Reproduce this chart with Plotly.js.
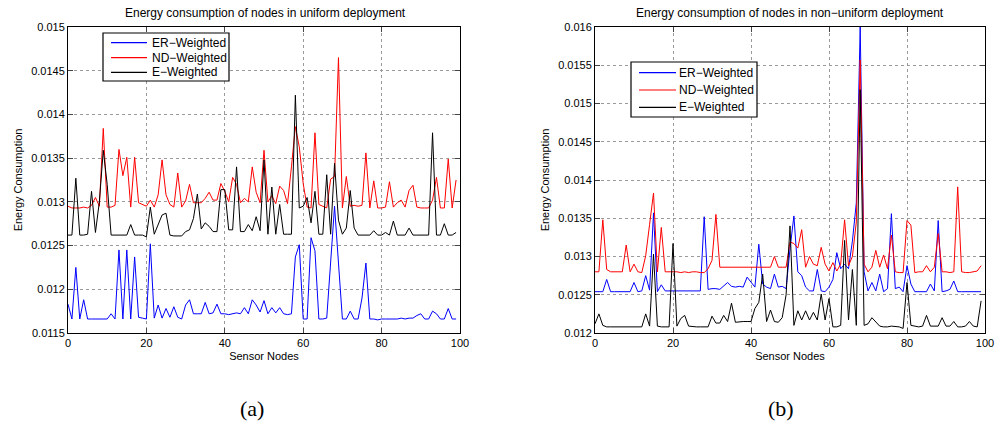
<!DOCTYPE html>
<html>
<head>
<meta charset="utf-8">
<script src="https://cdn.plot.ly/plotly-3.0.1.min.js"></script>
<style>
html,body{margin:0;padding:0;background:#fff;}
#chart{width:996px;height:423px;}
</style>
</head>
<body>
<div id="chart"></div>
<script>
// ---- Data ----
const seriesNames = ["ER\u2212Weighted", "ND\u2212Weighted", "E\u2212Weighted"];

// (a) uniform deployment, nodes 0..99
const uniER = [0.01183,0.01166,0.01225,0.01166,0.01188,0.01166,0.01166,0.01166,0.01166,0.01166,
0.01166,0.01172,0.01166,0.01245,0.01166,0.01245,0.01166,0.01237,0.01168,0.01167,
0.01166,0.01252,0.01167,0.01182,0.01167,0.01178,0.01168,0.0118,0.01168,0.01166,
0.01182,0.01188,0.01172,0.01172,0.01172,0.01185,0.01172,0.01173,0.01183,0.01172,
0.01172,0.01171,0.01172,0.01173,0.01172,0.01179,0.01172,0.01188,0.01182,0.01174,
0.01187,0.01172,0.01179,0.01173,0.01179,0.01172,0.01171,0.01172,0.01237,0.01251,
0.01166,0.01166,0.01259,0.01244,0.01166,0.01166,0.01167,0.0123,0.01295,0.0123,
0.01166,0.01166,0.01175,0.01166,0.01166,0.0119,0.0123,0.01166,0.01166,0.01165,
0.01166,0.01166,0.01166,0.01166,0.01166,0.01167,0.01166,0.01167,0.01167,0.0117,
0.01172,0.01166,0.01166,0.01175,0.01172,0.01166,0.01166,0.01178,0.01166,0.01166];

const uniND = [0.01295,0.01293,0.01293,0.01293,0.01294,0.01293,0.01296,0.01305,0.01295,0.01384,
0.01294,0.01294,0.01296,0.0136,0.0133,0.01351,0.01294,0.01351,0.01299,0.01297,
0.01295,0.01302,0.01294,0.01308,0.01348,0.01308,0.01297,0.01294,0.01333,0.01294,
0.01301,0.0132,0.01299,0.01299,0.01299,0.01304,0.01311,0.01302,0.01302,0.01321,
0.01312,0.013,0.01328,0.0132,0.01299,0.01304,0.013,0.0134,0.01311,0.01299,
0.01359,0.013,0.01307,0.01298,0.01318,0.01313,0.01298,0.0134,0.01386,0.01363,
0.01321,0.01294,0.01293,0.01379,0.01297,0.01295,0.01293,0.01326,0.01329,0.01465,
0.01293,0.01329,0.01295,0.01296,0.01295,0.01296,0.01356,0.01293,0.01324,0.01293,
0.01293,0.01294,0.01323,0.01294,0.01299,0.01302,0.01294,0.01313,0.01319,0.01294,
0.01293,0.01293,0.01293,0.01302,0.01328,0.01293,0.01293,0.01349,0.01293,0.01325];

const uniE = [0.01262,0.01262,0.01327,0.01262,0.01262,0.01263,0.01312,0.01265,0.013,0.01359,
0.0132,0.01262,0.01262,0.01262,0.01262,0.01262,0.01274,0.01262,0.01262,0.01262,
0.0126,0.01294,0.01263,0.01274,0.01285,0.01287,0.01262,0.01261,0.01261,0.01261,
0.01266,0.01268,0.01281,0.01309,0.01269,0.01276,0.01272,0.01266,0.01266,0.01314,
0.01314,0.01268,0.01268,0.0134,0.01266,0.01266,0.01274,0.01267,0.01283,0.01267,
0.01348,0.01263,0.01317,0.01263,0.01297,0.01263,0.01263,0.01263,0.01422,0.01293,
0.01295,0.01305,0.01276,0.01312,0.01263,0.01263,0.01331,0.01263,0.01344,0.01279,
0.01263,0.0127,0.01313,0.0127,0.01262,0.01262,0.01262,0.01262,0.01267,0.01262,
0.01262,0.01265,0.01262,0.01278,0.01262,0.01262,0.01262,0.0127,0.01262,0.01262,
0.01262,0.01262,0.01262,0.01379,0.01262,0.01262,0.01275,0.01262,0.01262,0.01265];

// (b) non-uniform deployment, nodes 0..99
const nonER = [0.01254,0.01254,0.01254,0.0127,0.01254,0.01254,0.01254,0.01254,0.01254,0.01254,
0.01266,0.01254,0.01255,0.01275,0.01256,0.01357,0.01254,0.01263,0.01255,0.01255,
0.01255,0.01255,0.01255,0.01255,0.01255,0.01255,0.01255,0.01255,0.01352,0.01257,
0.01258,0.01258,0.01257,0.01262,0.01266,0.01261,0.0126,0.01261,0.0126,0.01273,
0.01266,0.0126,0.01316,0.01264,0.0126,0.01258,0.01277,0.0126,0.01261,0.01258,
0.0131,0.01353,0.0128,0.01275,0.0126,0.01255,0.01255,0.01283,0.01255,0.01254,
0.0126,0.0127,0.01305,0.01284,0.0129,0.01284,0.0132,0.0137,0.016,0.0128,
0.01255,0.01266,0.01255,0.01277,0.01254,0.01258,0.01356,0.01258,0.0126,0.01254,
0.01288,0.01264,0.01254,0.01254,0.01254,0.01254,0.01264,0.01255,0.01347,0.01254,
0.01255,0.01257,0.01268,0.01254,0.01254,0.01254,0.01254,0.01254,0.01254,0.01254];

const nonND = [0.0128,0.0128,0.01348,0.01283,0.0128,0.0128,0.0128,0.0128,0.01315,0.0128,
0.0129,0.0128,0.01279,0.01301,0.01342,0.01383,0.0128,0.01338,0.0128,0.0128,
0.0128,0.0128,0.01279,0.0128,0.01279,0.0128,0.0128,0.01279,0.01279,0.01284,
0.01295,0.01355,0.01286,0.01286,0.01286,0.01286,0.01286,0.01286,0.01286,0.01286,
0.01286,0.01286,0.01286,0.01286,0.01286,0.01286,0.013,0.01286,0.01286,0.01286,
0.01319,0.01317,0.01311,0.01335,0.01286,0.013,0.0129,0.01288,0.01312,0.0129,
0.01281,0.01292,0.01281,0.0129,0.01348,0.01288,0.013,0.01345,0.01557,0.0129,
0.0128,0.01286,0.01308,0.01286,0.01302,0.01284,0.01328,0.0128,0.01279,0.01279,
0.01347,0.01341,0.01279,0.0128,0.0128,0.01288,0.0128,0.01286,0.0133,0.0128,
0.0128,0.01279,0.0128,0.01391,0.0128,0.01279,0.01279,0.0128,0.01281,0.01288];

const nonE = [0.01212,0.01225,0.0121,0.01208,0.01208,0.01208,0.01208,0.01208,0.01208,0.01208,
0.01208,0.01208,0.01208,0.01225,0.01209,0.01303,0.01209,0.01208,0.01208,0.01208,
0.01317,0.01209,0.01219,0.01223,0.01209,0.01208,0.01208,0.01208,0.01208,0.01208,
0.01222,0.01213,0.01213,0.01223,0.01215,0.01239,0.01214,0.01215,0.01215,0.01215,
0.01215,0.01232,0.0124,0.01277,0.01215,0.0123,0.01215,0.01214,0.0122,0.0125,
0.0134,0.0121,0.01229,0.01217,0.01229,0.01217,0.01227,0.01217,0.01251,0.01217,
0.01245,0.01208,0.01208,0.0121,0.01321,0.01217,0.01283,0.0121,0.01518,0.0121,
0.01212,0.0122,0.01215,0.01209,0.01208,0.01208,0.01209,0.01208,0.01208,0.01206,
0.01266,0.0121,0.01209,0.01208,0.01209,0.01223,0.01209,0.01209,0.01209,0.0122,
0.01209,0.01209,0.01215,0.01208,0.01208,0.01209,0.01215,0.01209,0.01208,0.01242];

const xTickVals = [0,20,40,60,80,100];
const yTickValsA = [0.0115,0.012,0.0125,0.013,0.0135,0.014,0.0145,0.015];
const yTickTextA = ["0.0115","0.012","0.0125","0.013","0.0135","0.014","0.0145","0.015"];
const yTickValsB = [0.012,0.0125,0.013,0.0135,0.014,0.0145,0.015,0.0155,0.016];
const yTickTextB = ["0.012","0.0125","0.013","0.0135","0.014","0.0145","0.015","0.0155","0.016"];

const colors = ["#0000ff","#ff0000","#000000"];
const FONT = "Liberation Sans, Arial, Helvetica, sans-serif";
const W = 996, H = 423;

function mk(y, i, xa, ya){
  return {y: y, type:"scatter", mode:"lines", name: seriesNames[i], showlegend:false,
    line:{color:colors[i], width:1}, xaxis:xa, yaxis:ya};
}
const traces = [
  mk(uniER,0,"x","y"), mk(uniND,1,"x","y"), mk(uniE,2,"x","y"),
  mk(nonER,0,"x2","y2"), mk(nonND,1,"x2","y2"), mk(nonE,2,"x2","y2")
];

function xax(dom, anchor){
  return {domain:dom, anchor:anchor, range:[0,100], tickvals:xTickVals, ticks:"inside", ticklen:5,
    showline:true, linecolor:"#000", linewidth:1, mirror:"ticks", zeroline:false,
    showgrid:true, gridcolor:"#9a9a9a", griddash:"dot", gridwidth:1,
    tickfont:{family:FONT,size:11,color:"#000"},
    title:{text:"Sensor Nodes", font:{family:FONT,size:11,color:"#000"}, standoff:4}};
}
function yax(dom, anchor, rng, tv, tt){
  return {domain:dom, anchor:anchor, range:rng, tickvals:tv, ticktext:tt, ticks:"inside", ticklen:5,
    showline:true, linecolor:"#000", linewidth:1, mirror:"ticks", zeroline:false,
    showgrid:true, gridcolor:"#9a9a9a", griddash:"dot", gridwidth:1,
    tickfont:{family:FONT,size:11,color:"#000"},
    title:{text:"Energy Consumption", font:{family:FONT,size:11,color:"#000"}, standoff:6}};
}

// legend boxes drawn in paper space (box px: left, top, right, bottom; row centres)
const shapes = [], annotations = [];
function legendBox(x0, y0, x1, y1, rows, lx0, lx1, tx){
  shapes.push({type:"rect", xref:"paper", yref:"paper", x0:x0/W, x1:x1/W, y0:1-y1/H, y1:1-y0/H,
    line:{color:"#000", width:1.2}, fillcolor:"#fff", layer:"above"});
  rows.forEach((ry, i) => {
    shapes.push({type:"line", xref:"paper", yref:"paper", x0:lx0/W, x1:lx1/W, y0:1-ry/H, y1:1-ry/H,
      line:{color:colors[i], width:1.2}, layer:"above"});
    annotations.push({text:seriesNames[i], xref:"paper", yref:"paper", x:tx/W, y:1-ry/H,
      xanchor:"left", yanchor:"middle", showarrow:false, font:{family:FONT,size:12,color:"#000"}});
  });
}
legendBox(103, 33, 229, 81, [42.7, 57.7, 72.3], 111, 147, 150);
legendBox(631, 62, 757, 117, [72.7, 90, 107.3], 639, 676, 677);

annotations.push(
  {text:"Energy consumption of nodes in uniform deployment", xref:"paper", yref:"paper",
    x:265/W, y:1-13/H, xanchor:"center", yanchor:"middle", showarrow:false,
    font:{family:FONT,size:12,color:"#000"}},
  {text:"Energy consumption of nodes in non\u2212uniform deployment", xref:"paper", yref:"paper",
    x:790/W, y:1-13/H, xanchor:"center", yanchor:"middle", showarrow:false,
    font:{family:FONT,size:12,color:"#000"}},
  {text:"(a)", xref:"paper", yref:"paper", x:252/W, y:1-408/H, xanchor:"center", yanchor:"middle",
    showarrow:false, font:{family:"Liberation Serif, Times New Roman, serif", size:22, color:"#000"}},
  {text:"(b)", xref:"paper", yref:"paper", x:781/W, y:1-408/H, xanchor:"center", yanchor:"middle",
    showarrow:false, font:{family:"Liberation Serif, Times New Roman, serif", size:22, color:"#000"}}
);

const yDom = [1-333/H, 1-27/H];
const layout = {
  width:W, height:H, margin:{l:0,r:0,t:0,b:0},
  paper_bgcolor:"#fff", plot_bgcolor:"#fff",
  font:{family:FONT,size:11,color:"#000"},
  xaxis: xax([68/W, 460/W], "y"),
  yaxis: yax(yDom, "x", [0.0115,0.015], yTickValsA, yTickTextA),
  xaxis2: xax([595/W, 985/W], "y2"),
  yaxis2: yax(yDom, "x2", [0.012,0.016], yTickValsB, yTickTextB),
  shapes: shapes,
  annotations: annotations,
  showlegend:false
};

Plotly.newPlot("chart", traces, layout, {displayModeBar:false, staticPlot:true});
</script>
</body>
</html>
